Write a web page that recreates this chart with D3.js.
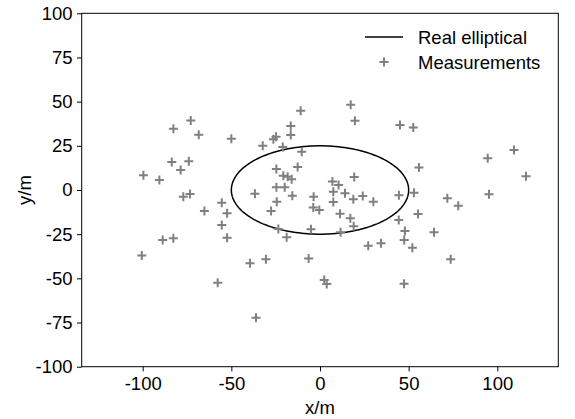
<!DOCTYPE html>
<html>
<head>
<meta charset="utf-8">
<script src="https://cdn.jsdelivr.net/npm/d3@7"></script>
<style>
    body { margin: 0; background: #fff; }
    text { font-family: "Liberation Sans", Arial, sans-serif; fill: #000; }
</style>
</head>
<body>
<div id="chart"></div>
<script>
// measured points (m)
const measX = [-82.7, -72.9, -68.4, -50.0, -83.6, -74.0, -78.6, -99.6, -90.6, -77.1,
    -73.3, -55.4, -65.2, -52.4, -55.4, -52.4, -88.7, -82.7, -100.5, -57.7,
    -36.1, -39.5, -30.5, -6.4, 2.4, 3.8, -24.4, -27.6, -3.8, -0.4,
    7.5, 18.8, 30.1, 11.3, 17.1, 19.0, -23.5, -18.8, -5.1, 11.6,
    27.2, 34.4, 44.4, -10.9, 17.3, 19.7, -16.5, -16.5, -24.8, -26.3,
    -32.3, -21.0, -10.3, -24.6, -12.6, -20.7, -18.2, -16.0, -24.6, -19.9,
    -36.7, -15.6, -3.6, 7.0, 10.5, 7.5, 14.1, 24.1, 19.3, 44.5,
    45.1, 52.6, 55.8, 94.6, 109.4, 116.2, 53.0, 71.8, 78.0, 95.3,
    55.3, 47.9, 64.3, 47.5, 52.1, 73.7, 47.4];
const measY = [34.7, 39.4, 31.3, 29.0, 15.8, 16.2, 11.3, 8.3, 5.7, -3.8,
    -2.3, -7.2, -11.9, -13.2, -19.8, -27.0, -28.3, -27.3, -37.0, -52.5,
    -72.3, -41.5, -39.2, -38.7, -50.9, -53.2, -6.6, -11.9, -9.9, -11.3,
    -6.8, -5.3, -6.6, -13.4, -16.0, -20.5, -22.1, -26.8, -22.2, -23.9,
    -31.5, -30.2, -17.0, 44.9, 48.3, 39.2, 36.2, 31.1, 30.2, 28.7,
    25.1, 24.3, 21.7, 11.9, 13.0, 8.0, 7.5, 6.1, 1.5, 1.5,
    -2.1, -3.3, -3.8, 4.8, 2.8, -1.0, -1.9, -3.4, 7.4, -3.0,
    36.8, 35.3, 12.8, 17.9, 22.6, 7.8, -1.5, -4.7, -8.9, -2.4,
    -13.6, -23.2, -23.9, -28.3, -32.7, -39.2, -53.0];

// real ellipse
const ellipseCenter = [0, 0];
const ellipseAxes = [50, 25];

const xTicks = [-100, -50, 0, 50, 100];
const yTicks = [-100, -75, -50, -25, 0, 25, 50, 75, 100];

const width = 575, height = 419;
const margin = { top: 13.3, right: 16.7, bottom: 52.3, left: 81.7 };
const fontSize = "18.5px";

const svg = d3.select("#chart")
    .append("svg")
    .attr("width", width)
    .attr("height", height);

const x = d3.scaleLinear()
    .domain([-134.4, 134.4])
    .range([margin.left, width - margin.right]);

const y = d3.scaleLinear()
    .domain([-100, 100])
    .range([height - margin.bottom, margin.top]);

// axes
const xAxis = svg.append("g")
    .attr("transform", "translate(0," + (height - margin.bottom) + ")")
    .call(d3.axisBottom(x).tickValues(xTicks).tickSize(4.7).tickPadding(4).tickFormat(d => String(d)));

const yAxis = svg.append("g")
    .attr("transform", "translate(" + margin.left + ",0)")
    .call(d3.axisLeft(y).tickValues(yTicks).tickSize(4.7).tickPadding(4.5).tickFormat(d => String(d)));

[xAxis, yAxis].forEach(a => {
    a.select(".domain").remove();
    a.selectAll("line").attr("stroke", "#000");
    a.selectAll("text")
        .style("font-size", fontSize)
        .style("font-family", "'Liberation Sans', Arial, sans-serif")
        .attr("fill", "#000");
});
xAxis.selectAll("text").attr("dy", "0.8em");

// frame
svg.append("rect")
    .attr("x", margin.left)
    .attr("y", margin.top)
    .attr("width", width - margin.left - margin.right)
    .attr("height", height - margin.top - margin.bottom)
    .attr("fill", "none")
    .attr("stroke", "#000")
    .attr("stroke-width", 1);

// axis titles
svg.append("text")
    .attr("x", x(0))
    .attr("y", 414)
    .attr("text-anchor", "middle")
    .style("font-size", fontSize)
    .text("x/m");

svg.append("text")
    .attr("transform", "translate(31," + y(0) + ") rotate(-90)")
    .attr("text-anchor", "middle")
    .style("font-size", fontSize)
    .text("y/m");

// ellipse
const ellipsePts = d3.range(0, 361, 2).map(t => {
    const a = t * Math.PI / 180;
    return [ellipseCenter[0] + ellipseAxes[0] * Math.cos(a),
            ellipseCenter[1] + ellipseAxes[1] * Math.sin(a)];
});
svg.append("path")
    .attr("d", d3.line().x(d => x(d[0])).y(d => y(d[1]))(ellipsePts))
    .attr("fill", "none")
    .attr("stroke", "#000")
    .attr("stroke-width", 1.5);

// measurements
function drawPlus(g, cx, cy) {
    g.append("path")
        .attr("d", "M" + (cx - 4.5) + "," + cy + "H" + (cx + 4.5) + "M" + cx + "," + (cy - 4.5) + "V" + (cy + 4.5))
        .attr("stroke", "#808080")
        .attr("stroke-width", 2)
        .attr("fill", "none");
}

const pts = svg.append("g");
measX.forEach((v, i) => drawPlus(pts, x(v), y(measY[i])));

// legend
const legend = svg.append("g");
legend.append("line")
    .attr("x1", 365).attr("x2", 403)
    .attr("y1", 37).attr("y2", 37)
    .attr("stroke", "#000")
    .attr("stroke-width", 1.5);
legend.append("text")
    .attr("x", 418).attr("y", 43.5)
    .style("font-size", fontSize)
    .text("Real elliptical");
drawPlus(legend, 384, 62);
legend.append("text")
    .attr("x", 418).attr("y", 68.5)
    .style("font-size", fontSize)
    .text("Measurements");
</script>
</body>
</html>
